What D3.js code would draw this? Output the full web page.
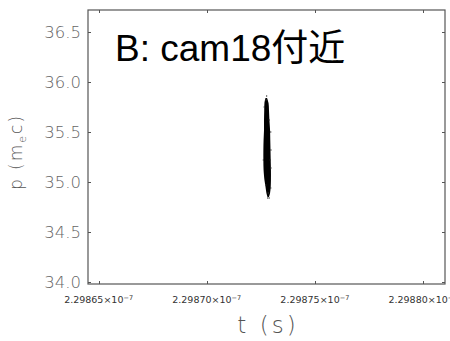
<!DOCTYPE html>
<html><head><meta charset="utf-8">
<script src="https://cdn.jsdelivr.net/npm/d3@7"></script>
<style>html,body{margin:0;padding:0;background:#fff;}</style>
</head><body>
<svg id="c" width="450" height="341"></svg>
<script>
// t in units of 1e-7 s, p in m_e c
const xTicks = [2.29865, 2.29870, 2.29875, 2.29880];
const xTickLabels = ["2.29865", "2.29870", "2.29875", "2.29880"];
const yTicks = [34.0, 34.5, 35.0, 35.5, 36.0, 36.5];
const yTickLabels = ["34.0", "34.5", "35.0", "35.5", "36.0", "36.5"];
// dense core of the particle cloud: p, leftmost t, rightmost t
const coreP     = [35.84, 35.79, 35.72, 35.62, 35.52, 35.42, 35.32, 35.22, 35.12, 35.02, 34.95, 34.89, 34.85];
const coreTLeft = [2.2987272, 2.2987267, 2.2987266, 2.2987265, 2.2987265, 2.2987263, 2.2987262, 2.2987262, 2.2987263, 2.2987267, 2.2987272, 2.2987276, 2.2987281];
const coreTRight= [2.2987279, 2.2987286, 2.2987288, 2.2987290, 2.2987293, 2.2987294, 2.2987295, 2.2987296, 2.2987297, 2.2987297, 2.2987296, 2.2987293, 2.2987288];
// stray particles
const strayT = [2.2987277, 2.2987274, 2.2987266, 2.2987289, 2.2987296, 2.2987297, 2.2987262, 2.2987294, 2.2987297, 2.2987273, 2.2987296, 2.2987285, 2.2987282, 2.2987289];
const strayP = [35.86, 35.82, 35.75, 35.62, 35.50, 35.32, 35.22, 35.22, 35.14, 34.97, 34.94, 34.89, 34.84, 34.84];
const title = "B: cam18付近";

const L = 88, R = 445, T = 10, B = 284;
const svg = d3.select("#c");
const x = d3.scaleLinear().domain([2.2986451, 2.2988102]).range([L, R]);
const y = d3.scaleLinear().domain([33.98, 36.72]).range([B, T]);
const axisCol = "#555";
const fontThin = "'DejaVu Sans', sans-serif";

// frame
svg.append("rect").attr("x", L).attr("y", T).attr("width", R - L).attr("height", B - T)
  .attr("fill", "none").attr("stroke", axisCol).attr("stroke-width", 1.2);

// ticks (inward, all sides)
const tl = 3;
const gt = svg.append("g").attr("stroke", axisCol).attr("stroke-width", 1);
xTicks.forEach(v => {
  const px = Math.round(x(v)) + 0.5;
  gt.append("line").attr("x1", px).attr("x2", px).attr("y1", B).attr("y2", B - tl);
  gt.append("line").attr("x1", px).attr("x2", px).attr("y1", T).attr("y2", T + tl);
});
yTicks.forEach(v => {
  const py = Math.round(y(v)) + 0.5;
  gt.append("line").attr("x1", L).attr("x2", L + tl).attr("y1", py).attr("y2", py);
  gt.append("line").attr("x1", R).attr("x2", R - tl).attr("y1", py).attr("y2", py);
});

// y tick labels
svg.append("g").selectAll("text").data(yTicks).join("text")
  .attr("x", L - 7).attr("y", d => y(d) + 6)
  .attr("text-anchor", "end").attr("font-family", fontThin).attr("font-weight", 200)
  .attr("font-size", 16.5).attr("fill", "#666")
  .text((d, i) => yTickLabels[i]);

// x tick labels
const xl = svg.append("g").selectAll("text").data(xTicks).join("text")
  .attr("x", d => x(d) + 0).attr("y", 303)
  .attr("text-anchor", "middle").attr("font-family", fontThin)
  .attr("font-size", 9.5).attr("fill", "#333");
xl.append("tspan").text((d, i) => xTickLabels[i] + "×10");
xl.append("tspan").attr("dy", -3.5).attr("font-size", 6.5).text("−7");

// axis titles
svg.append("text").attr("x", 268).attr("y", 333).attr("text-anchor", "middle")
  .attr("font-family", fontThin).attr("font-weight", 200).attr("font-size", 23)
  .attr("fill", "#555").attr("letter-spacing", 3).text("t (s)");

const yl = svg.append("text").attr("transform", "translate(22,152) rotate(-90)")
  .attr("text-anchor", "middle").attr("font-family", fontThin).attr("font-weight", 200)
  .attr("font-size", 17).attr("fill", "#555").attr("letter-spacing", 2);
yl.append("tspan").text("p (m");
yl.append("tspan").attr("dy", 4).attr("font-size", 11).text("e");
yl.append("tspan").attr("dy", -4).text("c)");

// particle cloud core
const core = coreP.map((p, i) => ({p, a: coreTLeft[i], b: coreTRight[i]}));
const area = d3.area().curve(d3.curveCatmullRom)
  .y(d => y(d.p)).x0(d => x(d.a)).x1(d => x(d.b));
svg.append("path").datum(core).attr("d", area).attr("fill", "#000");

// stray particles
svg.append("g").selectAll("rect").data(strayT.map((t, i) => [t, strayP[i]])).join("rect")
  .attr("x", d => x(d[0]) - 0.6).attr("y", d => y(d[1]) - 0.6)
  .attr("width", 1.2).attr("height", 1.2).attr("fill", "#333");

// title
svg.append("text").attr("x", 115).attr("y", 61)
  .attr("font-family", "'Liberation Sans', 'Noto Sans CJK JP', sans-serif")
  .attr("font-size", 37).attr("fill", "#000").text(title);
</script>
</body></html>
